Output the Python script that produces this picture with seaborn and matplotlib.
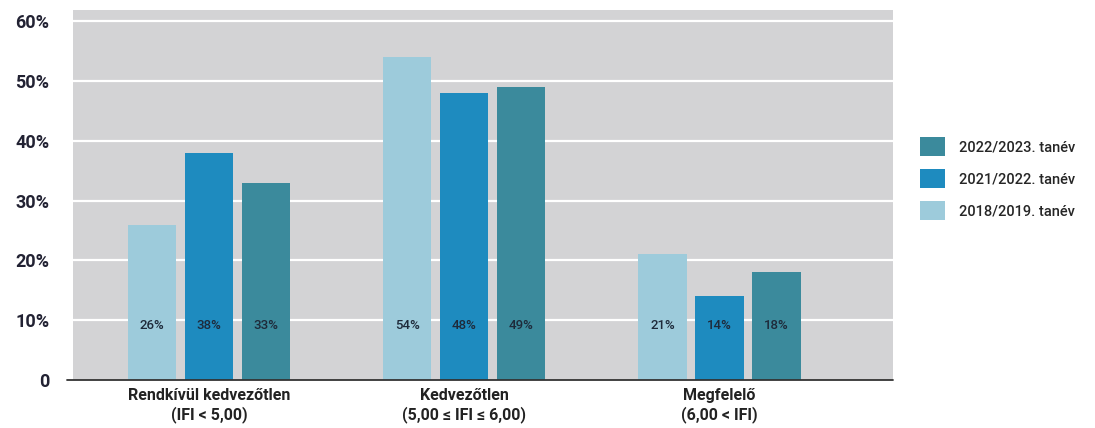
import matplotlib
matplotlib.use("Agg")
import matplotlib.pyplot as plt
import seaborn as sns
import pandas as pd
from matplotlib.patches import Patch

categories = ["Rendkívül kedvezőtlen\n(IFI < 5,00)",
              "Kedvezőtlen\n(5,00 ≤ IFI ≤ 6,00)",
              "Megfelelő\n(6,00 < IFI)"]
years = ["2018/2019. tanév", "2021/2022. tanév", "2022/2023. tanév"]
values_2018 = [26, 54, 21]
values_2021 = [38, 48, 14]
values_2022 = [33, 49, 18]
y_ticks = [0, 10, 20, 30, 40, 50, 60]
y_tick_labels = ["0", "10%", "20%", "30%", "40%", "50%", "60%"]

colors = ["#9dcbdb", "#1e8bbf", "#3b8a9c"]

df = pd.DataFrame({
    "category": categories * 3,
    "year": [y for y in years for _ in categories],
    "value": values_2018 + values_2021 + values_2022,
})

sns.set_theme(style="white")
plt.rcParams["font.family"] = ["Roboto", "DejaVu Sans"]

fig = plt.figure(figsize=(10.95, 4.28), dpi=100)
ax = fig.add_axes([0.0667, 0.112, 0.7488, 0.865])
ax.set_facecolor("#d3d3d5")

sns.barplot(data=df, x="category", y="value", hue="year", hue_order=years,
            order=categories, palette=colors, width=0.67, gap=0.15,
            saturation=1, linewidth=0, ax=ax, legend=False, zorder=3)

ax.set_ylim(0, 61.9)
ax.set_xlim(-0.533, 2.68)
ax.set_yticks(y_ticks)
ax.set_yticklabels(y_tick_labels)
for t in y_ticks[1:]:
    ax.axhline(t, color="white", lw=1.6, zorder=1)

ax.tick_params(axis="y", length=0, pad=17, labelsize=13, labelcolor="#222233")
ax.tick_params(axis="x", length=0, pad=6, labelsize=11.5, labelcolor="#222222")
for lbl in ax.get_yticklabels() + ax.get_xticklabels():
    lbl.set_fontweight("bold")

ax.set_xlabel("")
ax.set_ylabel("")
for s in ["top", "right", "left", "bottom"]:
    ax.spines[s].set_visible(False)
# baseline reaching slightly past the shaded panel on the left
ax.plot([-0.557, 2.68], [0, 0], color="#333333", lw=1.3,
        clip_on=False, zorder=5)

# value labels placed low inside each bar
for container in ax.containers:
    labels = [f"{int(round(b.get_height()))}%" for b in container]
    for bar, text in zip(container, labels):
        ax.text(bar.get_x() + bar.get_width() / 2, 9.2, text,
                ha="center", va="center", fontsize=9.5, fontweight="medium",
                color="#1e2a3a", zorder=6)

handles = [Patch(facecolor=c, edgecolor="none") for c in colors]
fig.legend(handles[::-1], years[::-1], loc="center left",
           bbox_to_anchor=(0.828, 0.583), frameon=False,
           handlelength=1.7, handleheight=1.7, handletextpad=1.0,
           labelspacing=0.85, prop={"size": 10.5, "weight": "medium"})

fig.savefig("out.png", dpi=100)
